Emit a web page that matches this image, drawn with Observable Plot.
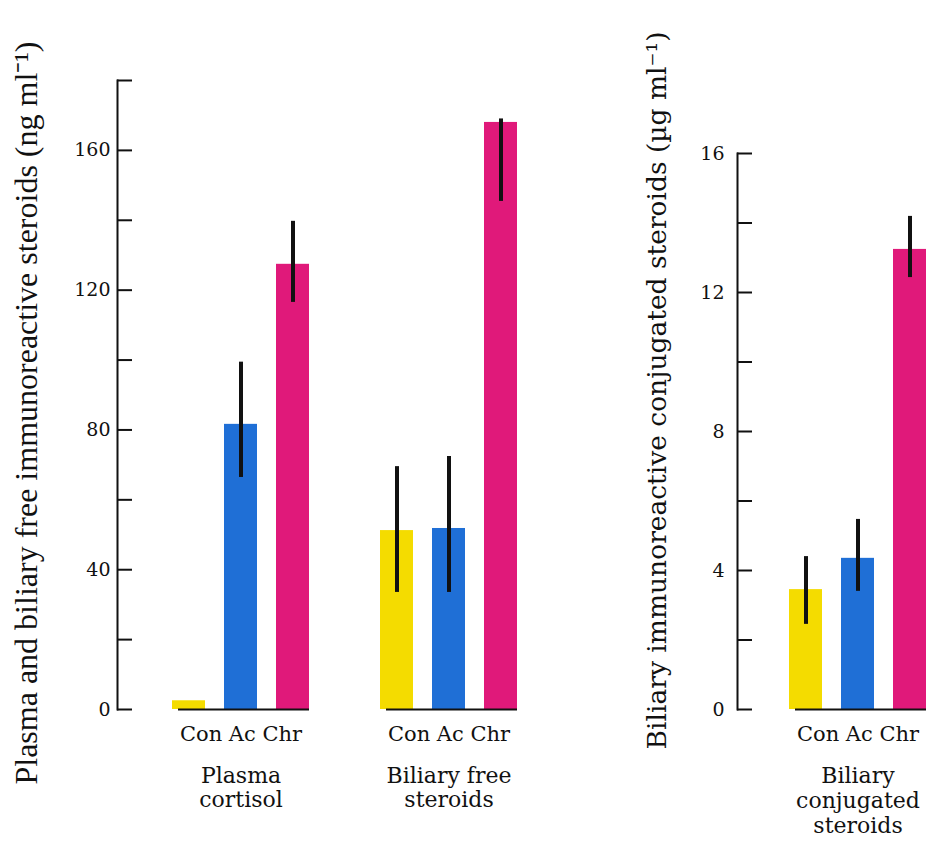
<!DOCTYPE html>
<html>
<head>
<meta charset="utf-8">
<script src="https://cdn.jsdelivr.net/npm/d3@7"></script>
<script src="https://cdn.jsdelivr.net/npm/@observablehq/plot@0.6"></script>
<style>
  html, body { margin: 0; padding: 0; background: #fff; }
  #chart { position: relative; width: 937px; height: 841px; overflow: hidden; background: #fff; }
  #chart > svg { position: absolute; top: 0; }
</style>
</head>
<body>
<div id="chart"></div>
<script>
// Treatments and groups
const treatments = ["Con", "Ac", "Chr"];
const groups = ["Plasma cortisol", "Biliary free steroids", "Biliary conjugated steroids"];
const groupTitles = ["Plasma\ncortisol", "Biliary free\nsteroids", "Biliary\nconjugated\nsteroids"];
const colors = ["#f4dc00", "#1f6fd6", "#e0197a"];

// Plasma cortisol (ng ml-1): mean, lower and upper error limits
const plasmaMean = [2.5, 81.6, 127.4];
const plasmaLow = [null, 66.4, 116.5];
const plasmaHigh = [null, 99.4, 139.7];

// Biliary free steroids (ng ml-1)
const freeMean = [51.2, 51.8, 168];
const freeLow = [33.5, 33.5, 145.4];
const freeHigh = [69.5, 72.4, 169];

// Biliary conjugated steroids (µg ml-1)
const conjMean = [3.45, 4.35, 13.24];
const conjLow = [2.45, 3.4, 12.43];
const conjHigh = [4.4, 5.47, 14.19];

// Axis ticks
const leftTicks = [0, 20, 40, 60, 80, 100, 120, 140, 160, 180];
const leftLabels = [0, 40, 80, 120, 160];
const rightTicks = [0, 2, 4, 6, 8, 10, 12, 14, 16];
const rightLabels = [0, 4, 8, 12, 16];

const leftTitle = "Plasma and biliary free immunoreactive steroids (ng ml\u207B\u00B9)";
const rightTitle = "Biliary immunoreactive conjugated steroids (\u00B5g ml\u207B\u00B9)";

const key = (g, t) => `${g}|${t}`;
function rows(group, mean, low, high) {
  return treatments.map((t, i) => ({
    group, treatment: t, key: key(group, t),
    value: mean[i], low: low[i], high: high[i]
  }));
}

const leftData = [
  ...rows(groups[0], plasmaMean, plasmaLow, plasmaHigh),
  ...rows(groups[1], freeMean, freeLow, freeHigh)
];
const rightData = rows(groups[2], conjMean, conjLow, conjHigh);

const serif = "DejaVu Serif";

function panel({data, groupList, titleList, domain, yDomain, ticks, labels, title, width, marginLeft, marginRight, marginTop, insetLeft, tickFont, tickPadding, titleFont, titleSize, titleDx, titleDy, lineHeight, titleLineDy}) {
  const H = 841, marginBottom = 132;
  const frameW = width - marginLeft - marginRight;
  const groupRows = groupList.map((g, i) => ({group: g, title: titleList[i], first: key(g, "Con"), mid: key(g, "Ac"), last: key(g, "Chr")}));
  return Plot.plot({
    width, height: H,
    marginLeft, marginRight, marginTop, marginBottom,
    style: {fontFamily: serif, background: "transparent", color: "#111"},
    x: {domain, paddingInner: 0.36, paddingOuter: 0.18, insetLeft, axis: null},
    y: {domain: yDomain, axis: null},
    color: {domain: treatments, range: colors},
    marks: [
      Plot.barY(data, {x: "key", y: "value", fill: "treatment"}),
      Plot.ruleY(groupRows, {x1: "first", x2: "last", y: () => 0, stroke: "#111", strokeWidth: 2, insetLeft: 6}),
      Plot.ruleX(data.filter(d => d.low != null), {x: "key", y1: "low", y2: "high", stroke: "#111", strokeWidth: 4}),
      Plot.frame({anchor: "left", stroke: "#111", strokeWidth: 2}),
      Plot.tickY(ticks, {y: d => d, stroke: "#111", strokeWidth: 2, insetRight: frameW - 15}),
      Plot.axisY(labels, {tickSize: 0, tickPadding, fontSize: tickFont, label: null, fill: "#111"}),
      Plot.text(groupRows, {x: "mid", text: () => "Con Ac Chr", frameAnchor: "bottom", dy: 31, fontSize: 21, fill: "#111"}),
      Plot.text(groupRows, {x: "mid", text: "title", frameAnchor: "bottom", lineAnchor: "top", dy: titleLineDy, fontSize: 22, lineHeight, fill: "#111"}),
      Plot.text([title], {frameAnchor: "left", textAnchor: "middle", rotate: -90, dx: titleDx, dy: titleDy, fontFamily: titleFont, fontSize: titleSize, fill: "#111"})
    ]
  });
}

const left = panel({
  data: leftData,
  groupList: groups.slice(0, 2),
  titleList: groupTitles.slice(0, 2),
  domain: [...treatments.map(t => key(groups[0], t)), "gap", ...treatments.map(t => key(groups[1], t))],
  yDomain: [0, 180], ticks: leftTicks, labels: leftLabels, title: leftTitle,
  width: 600, marginLeft: 117, marginRight: 72, marginTop: 80, insetLeft: 45,
  tickFont: 19, tickPadding: 7, titleFont: "Liberation Serif", titleSize: 32, titleDx: -91, titleDy: 18,
  lineHeight: 1.1, titleLineDy: 56
});
left.style.left = "0px";

const right = panel({
  data: rightData,
  groupList: groups.slice(2),
  titleList: groupTitles.slice(2),
  domain: treatments.map(t => key(groups[2], t)),
  yDomain: [0, 16], ticks: rightTicks, labels: rightLabels, title: rightTitle,
  width: 337, marginLeft: 137, marginRight: 0, marginTop: 153, insetLeft: 42,
  tickFont: 19, tickPadding: 13, titleFont: serif, titleSize: 26.5, titleDx: -80, titleDy: -41,
  lineHeight: 1.14, titleLineDy: 56
});
right.style.left = "600px";

const chart = document.getElementById("chart");
chart.appendChild(left);
chart.appendChild(right);
</script>
</body>
</html>
